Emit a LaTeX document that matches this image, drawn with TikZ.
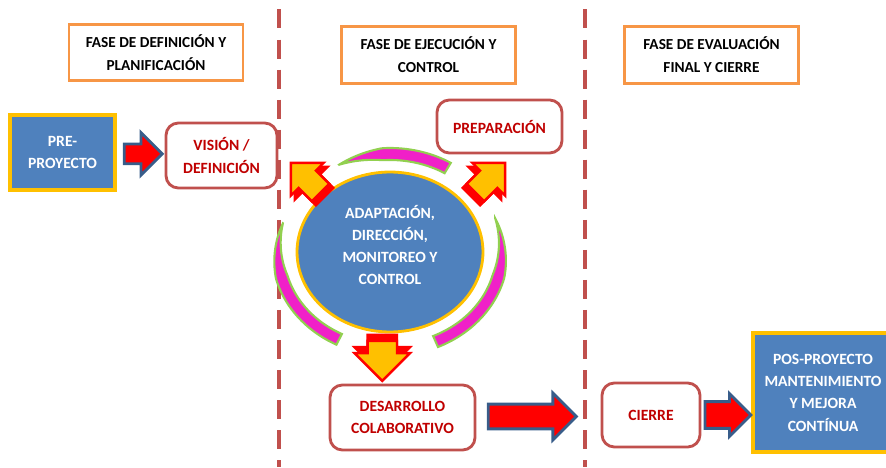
\documentclass[tikz,border=0pt]{standalone}
\usepackage{fontspec}
\setmainfont{Carlito}
\usetikzlibrary{shapes.geometric,shapes.arrows,calc}

\definecolor{boxred}{HTML}{C0504D}
\definecolor{txtred}{HTML}{C00000}
\definecolor{phaseorange}{HTML}{F79646}
\definecolor{coreblue}{HTML}{4F81BD}
\definecolor{goldrim}{HTML}{FFC000}
\definecolor{arrowblue}{HTML}{385D8A}
\definecolor{crescentpink}{HTML}{F020C8}
\definecolor{crescentgreen}{HTML}{92D050}

\begin{document}
\begin{tikzpicture}[x=0.02cm,y=0.02cm,
	font=\fontsize{8.9}{12.7}\selectfont\bfseries,
	phase node/.style={rectangle,draw=phaseorange,line width=1.6pt,minimum width=3.48cm,minimum height=1.13cm,align=center,
		font=\fontsize{8.7}{13}\selectfont\bfseries},
	step node/.style={rectangle,rounded corners=7pt,draw=boxred,line width=1.6pt,fill=white,text=txtred,align=center},
	blue node/.style={rectangle,draw=goldrim,line width=2.2pt,fill=coreblue,text=white,align=center},
	flow arrow/.style={single arrow,draw=arrowblue,fill=red,line width=1.6pt,inner xsep=0pt,single arrow head indent=0pt},
	turn arrow/.style={single arrow,draw=red,fill=goldrim,line width=1.4pt,inner xsep=0pt,single arrow head indent=0pt,
		minimum height=0.84cm,inner ysep=0.22cm,single arrow head extend=0.22cm},
	turn shadow/.style={turn arrow,fill=red},
	crescent/.style={fill=crescentpink,draw=crescentgreen,line width=1.2pt},
	divider/.style={draw=boxred,line width=2.3pt,dash pattern=on 10.8pt off 6.3pt,dash phase=11.7pt}]
	
	\useasboundingbox (0,0) rectangle (886,467);
	\clip (0,0) rectangle (886,467);
	
	% phase dividers
	\draw[divider] (279,467) -- (279,0);
	\draw[divider] (585,467) -- (585,0);
	
	% phase headers
	\node[phase node] (ph1) at (156,414.5) {FASE DE DEFINICIÓN Y\\PLANIFICACIÓN};
	\node[phase node] (ph2) at (428.5,412) {FASE DE EJECUCIÓN Y\\CONTROL};
	\node[phase node] (ph3) at (711.5,412) {FASE DE EVALUACIÓN\\FINAL Y CIERRE};
	
	% steps
	\node[blue node,minimum width=2.1cm,minimum height=1.5cm] (pre) at (62.5,314.5) {PRE-\\PROYECTO};
	\node[step node,minimum width=2.22cm,minimum height=1.3cm] (vis) at (221.5,311.5) {VISIÓN /\\DEFINICIÓN};
	\node[step node,minimum width=2.5cm,minimum height=1.06cm] (prep) at (499.5,340.5) {PREPARACIÓN};
	\node[ellipse,draw=goldrim,line width=1.6pt,fill=coreblue,minimum width=3.72cm,minimum height=3.2cm] (core) at (390,215) {};
	\node[text=white,align=center] (corelabel) at ($(core.center)+(0,7)$) {ADAPTACIÓN,\\DIRECCIÓN,\\MONITOREO Y\\CONTROL};
	\node[step node,minimum width=2.9cm,minimum height=1.3cm] (des) at (402.5,49.5) {DESARROLLO\\COLABORATIVO};
	\node[step node,minimum width=1.96cm,minimum height=1.28cm] (cie) at (651,52) {CIERRE};
	\node[blue node,minimum width=2.8cm,minimum height=2.38cm] (pos) at (823,74.5) {POS-PROYECTO\\MANTENIMIENTO\\Y MEJORA\\CONTÍNUA};
	
	% cycle around the core
	\foreach \ta/\tb/\w in {117/59/12,163/243/12,20/-66/12}
	\filldraw[crescent] plot[domain=\ta:\tb,samples=50,variable=\t]
	({390+(112+0.5*\w*min(1,2.5*(\t-\ta)/(\tb-\ta)))*cos(\t)},{215+(98+0.5*\w*min(1,2.5*(\t-\ta)/(\tb-\ta)))*sin(\t)})
	-- plot[domain=\tb:\ta,samples=50,variable=\t]
	({390+(112-0.5*\w*min(1,2.5*(\t-\ta)/(\tb-\ta)))*cos(\t)},{215+(98-0.5*\w*min(1,2.5*(\t-\ta)/(\tb-\ta)))*sin(\t)})
	-- cycle;
	
	\node[turn shadow,rotate=135] (ulshadow) at ($(core.center)+(-76,66)$) {};
	\node[turn arrow,rotate=135] (ul) at ($(core.center)+(-80,70)$) {};
	\node[turn shadow,rotate=45] (urshadow) at ($(core.center)+(92,66)$) {};
	\node[turn arrow,rotate=45] (ur) at ($(core.center)+(96,70)$) {};
	\node[turn shadow,rotate=-90,minimum height=0.8cm,inner ysep=0.27cm,single arrow head extend=0.26cm] (downshadow)
	at ($(core.south)!0.5!(des.north)+(-14,11)$) {};
	\node[turn arrow,rotate=-90,minimum height=0.8cm,inner ysep=0.27cm,single arrow head extend=0.26cm] (down)
	at ($(core.south)!0.5!(des.north)+(-14,5)$) {};
	
	% flow between phases
	\node[flow arrow,minimum height=0.76cm,inner ysep=0.17cm,single arrow head extend=0.23cm] (a1) at ($(pre.east)!0.45!(vis.west)$) {};
	\node[flow arrow,minimum height=1.76cm,inner ysep=0.22cm,single arrow head extend=0.22cm] (a2) at ($(des.east)!0.40!(cie.west)$) {};
	\node[flow arrow,minimum height=0.92cm,inner ysep=0.24cm,single arrow head extend=0.16cm] (a3) at ($(cie.east)!0.4!(cie.east -| pos.west)$) {};
	
\end{tikzpicture}
\end{document}
